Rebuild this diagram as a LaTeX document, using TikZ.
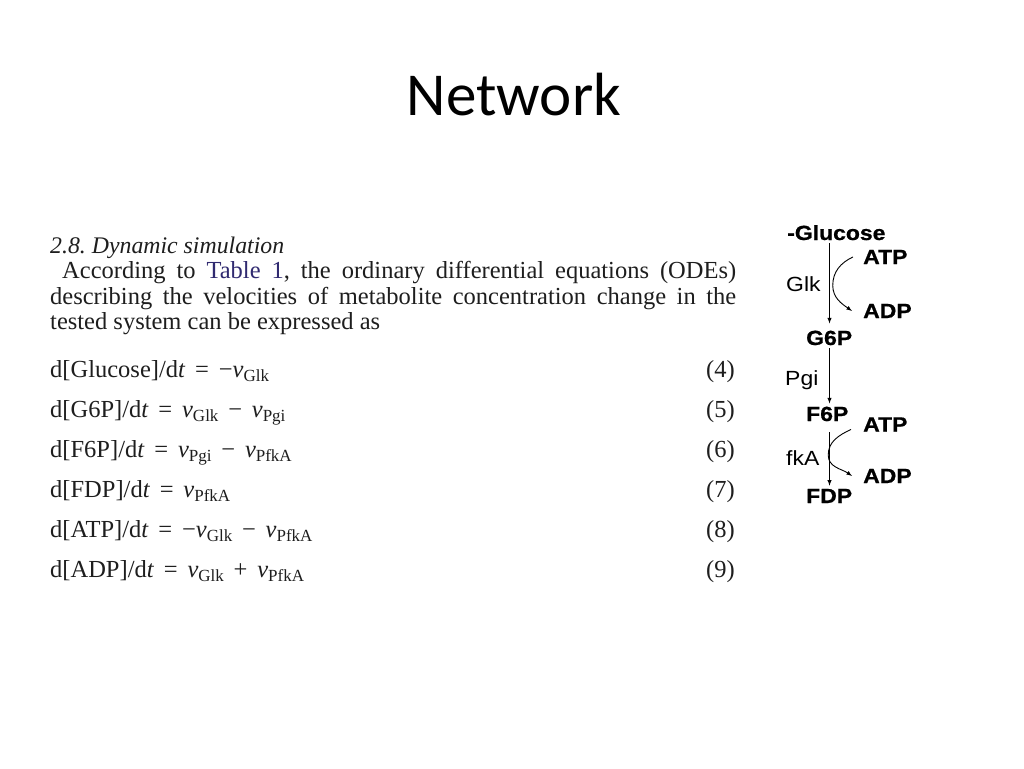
\documentclass[tikz,border=0pt]{standalone}
\usepackage{fontspec}
\setmainfont{Liberation Serif}
\newfontfamily\titlefont{Carlito}
\newfontfamily\netfont[FakeStretch=1.12, BoldFeatures={FakeBold=0.8}]{Liberation Sans}
\usetikzlibrary{calc}
\definecolor{inktext}{RGB}{30,30,30}
\definecolor{tablelink}{RGB}{48,42,112}
\newcommand{\vel}[1]{\textit{v}\raisebox{-4pt}{\fontsize{17}{17}\selectfont #1}}
\newcommand{\eqsp}{\hspace{0.4em}}
\frenchspacing
\tikzset{
  para/.style={anchor=base west, inner sep=0pt, text=inktext, font=\fontsize{24.5}{26}\selectfont},
  eqno/.style={anchor=base east, inner sep=0pt, text=inktext, font=\fontsize{24.5}{26}\selectfont},
  metab/.style={anchor=base west, inner ysep=3pt, inner xsep=0pt, font=\fontsize{20.5}{22}\selectfont\netfont\bfseries},
  enzyme/.style={anchor=base west, inner sep=0pt, font=\fontsize{20.5}{22}\selectfont\netfont},
  flow/.style={->, >=latex, line width=0.9pt},
}
\begin{document}
\begin{tikzpicture}[x=1pt,y=-1pt]
        \fill[white] (0,0) rectangle (1024,768);
        \useasboundingbox (0,0) rectangle (1024,768);
        % title
        \node[anchor=base, inner sep=0pt, font=\fontsize{61}{70}\selectfont\titlefont] (title) at (514,115) {Network};
        % text of the paper
        \node[para, font=\fontsize{23.8}{26}\selectfont] (head) at (50,253) {\textit{2.8. Dynamic simulation}};
        \node[para] (lineA) at (62,278.5) {\makebox[674pt][s]{According to \textcolor{tablelink}{Table 1}, the ordinary differential equations (ODEs)}};
        \node[para] (lineB) at (50,304) {\makebox[686pt][s]{describing the velocities of metabolite concentration change in the}};
        \node[para] (lineC) at (50,329.5) {tested system can be expressed as};
        % equations
        \node[para] (eqA) at (50,377) {d[Glucose]/d\textit{t}\eqsp=\eqsp−\vel{Glk}};
        \node[para] (eqB) at (50,417) {d[G6P]/d\textit{t}\eqsp=\eqsp\vel{Glk}\eqsp−\eqsp\vel{Pgi}};
        \node[para] (eqC) at (50,457) {d[F6P]/d\textit{t}\eqsp=\eqsp\vel{Pgi}\eqsp−\eqsp\vel{PfkA}};
        \node[para] (eqD) at (50,497) {d[FDP]/d\textit{t}\eqsp=\eqsp\vel{PfkA}};
        \node[para] (eqE) at (50,537) {d[ATP]/d\textit{t}\eqsp=\eqsp−\vel{Glk}\eqsp−\eqsp\vel{PfkA}};
        \node[para] (eqF) at (50,577) {d[ADP]/d\textit{t}\eqsp=\eqsp\vel{Glk}\eqsp+\eqsp\vel{PfkA}};
        \foreach \n [count=\i from 0] in {4,...,9}
            \node[eqno] (no\n) at (735,377+40*\i) {(\n)};
        % network
        \coordinate (axis) at (829.5,0);
        \node[metab] (glucose) at (787,240) {-Glucose};
        \node[metab] (atpA) at (863,264) {ATP};
        \node[enzyme] (glk) at (786,291) {Glk};
        \node[metab] (adpA) at (863,318) {ADP};
        \node[metab] (g6p) at (806,345) {G6P};
        \node[enzyme] (pgi) at (785,385) {Pgi};
        \node[metab] (f6p) at (806,421) {F6P};
        \node[metab] (atpB) at (863,431.5) {ATP};
        \node[enzyme] (pfka) at (786,465) {fkA};
        \node[metab] (adpB) at (863,483) {ADP};
        \node[metab] (fdp) at (806,503) {FDP};
        \draw[flow, shorten >=4pt] (glucose.south -| axis) -- (g6p.north -| axis);
        \draw[flow] (g6p.south -| axis) -- (f6p.north -| axis);
        \draw[flow, shorten <=8pt] (f6p.south -| axis) -- (fdp.north -| axis);
        \draw[flow] ([xshift=-10pt]atpA.west) to[out=205,in=90] ($(glucose.south)!.5!(g6p.north)$ -| axis) to[out=-90,in=145] ([xshift=-11pt]adpA.west);
        \draw[flow] ([xshift=-12pt,yshift=-5pt]atpB.west) to[out=205,in=90] ($(f6p.south)!.5!(fdp.north)$ -| axis) to[out=-90,in=145] ([xshift=-11pt]adpB.west);
\end{tikzpicture}
\end{document}
